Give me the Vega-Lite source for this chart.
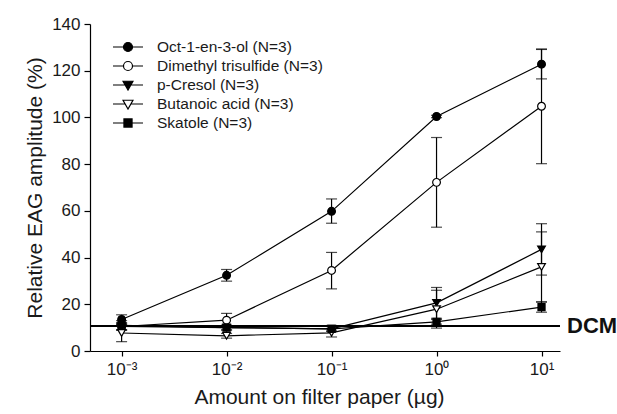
{
  "$schema": "https://vega.github.io/schema/vega-lite/v6.json",
  "width": 470,
  "height": 327,
  "autosize": {"type": "none"},
  "padding": {"left": 90, "top": 24, "right": 57, "bottom": 63},
  "background": "white",
  "config": {
    "view": {"stroke": null},
    "font": "Liberation Sans",
    "axis": {
      "grid": false,
      "domainColor": "black",
      "domainWidth": 1.2,
      "tickColor": "black",
      "tickWidth": 1.2,
      "labelColor": "#1a1a1a",
      "titleColor": "#1a1a1a",
      "labelFont": "Liberation Sans",
      "titleFont": "Liberation Sans",
      "labelFontSize": 17,
      "titleFontSize": 21,
      "titleFontWeight": "normal"
    },
    "legend": {
      "labelFont": "Liberation Sans",
      "labelFontSize": 15.5,
      "labelColor": "#1a1a1a",
      "labelLimit": 400,
      "symbolStrokeWidth": 1.2
    }
  },
  "datasets": {
    "eag": [
      {"series": "Oct-1-en-3-ol (N=3)", "x": 0.001, "y": 13.5, "lo": 11.5, "hi": 15.5},
      {"series": "Oct-1-en-3-ol (N=3)", "x": 0.01, "y": 32.4, "lo": 29.9, "hi": 34.9},
      {"series": "Oct-1-en-3-ol (N=3)", "x": 0.1, "y": 59.8, "lo": 54.7, "hi": 65.1},
      {"series": "Oct-1-en-3-ol (N=3)", "x": 1, "y": 100.4, "lo": 99.9, "hi": 100.9},
      {"series": "Oct-1-en-3-ol (N=3)", "x": 10, "y": 122.8, "lo": 116.5, "hi": 129.1},
      {"series": "Dimethyl trisulfide (N=3)", "x": 0.001, "y": 10.5, "lo": 9, "hi": 12},
      {"series": "Dimethyl trisulfide (N=3)", "x": 0.01, "y": 13.2, "lo": 10.3, "hi": 16.1},
      {"series": "Dimethyl trisulfide (N=3)", "x": 0.1, "y": 34.5, "lo": 26.6, "hi": 42.2},
      {"series": "Dimethyl trisulfide (N=3)", "x": 1, "y": 72.2, "lo": 53, "hi": 91.4},
      {"series": "Dimethyl trisulfide (N=3)", "x": 10, "y": 104.8, "lo": 80.2, "hi": 129.3},
      {"series": "p-Cresol (N=3)", "x": 0.001, "y": 10.5, "lo": 9, "hi": 12},
      {"series": "p-Cresol (N=3)", "x": 0.01, "y": 10, "lo": 9, "hi": 11},
      {"series": "p-Cresol (N=3)", "x": 0.1, "y": 9.5, "lo": 8.5, "hi": 10.5},
      {"series": "p-Cresol (N=3)", "x": 1, "y": 20.6, "lo": 14, "hi": 27.2},
      {"series": "p-Cresol (N=3)", "x": 10, "y": 43.5, "lo": 32.5, "hi": 54.5},
      {"series": "Butanoic acid (N=3)", "x": 0.001, "y": 7.7, "lo": 4, "hi": 11.4},
      {"series": "Butanoic acid (N=3)", "x": 0.01, "y": 6.5, "lo": 5.5, "hi": 7.5},
      {"series": "Butanoic acid (N=3)", "x": 0.1, "y": 7.8, "lo": 6, "hi": 9.6},
      {"series": "Butanoic acid (N=3)", "x": 1, "y": 17.9, "lo": 9.8, "hi": 26},
      {"series": "Butanoic acid (N=3)", "x": 10, "y": 36, "lo": 21, "hi": 51},
      {"series": "Skatole (N=3)", "x": 0.001, "y": 11, "lo": 9, "hi": 13},
      {"series": "Skatole (N=3)", "x": 0.01, "y": 10, "lo": 9, "hi": 11},
      {"series": "Skatole (N=3)", "x": 0.1, "y": 9.5, "lo": 8.5, "hi": 10.5},
      {"series": "Skatole (N=3)", "x": 1, "y": 12.5, "lo": 11.5, "hi": 13.5},
      {"series": "Skatole (N=3)", "x": 10, "y": 18.8, "lo": 16.6, "hi": 21}
    ],
    "dcm": [{"label": "DCM", "x": 15, "y": 10.7}]
  },
  "encoding": {
    "x": {
      "field": "x", "type": "quantitative",
      "scale": {"type": "log", "domain": [0.0005, 15], "nice": false},
      "axis": {
        "title": "Amount on filter paper (µg)",
        "values": [0.001, 0.01, 0.1, 1, 10],
        "tickSize": 5,
        "labelPadding": 5,
        "titlePadding": 9,
        "titleX": 229,
        "labelExpr": "round(log(datum.value)/LN10) == -3 ? '10⁻³' : round(log(datum.value)/LN10) == -2 ? '10⁻²' : round(log(datum.value)/LN10) == -1 ? '10⁻¹' : round(log(datum.value)/LN10) == 0 ? '10⁰' : '10¹'"
      }
    },
    "y": {
      "field": "y", "type": "quantitative",
      "scale": {"domain": [0, 140]},
      "axis": {
        "title": "Relative EAG amplitude (%)",
        "values": [0, 20, 40, 60, 80, 100, 120, 140],
        "tickSize": 6,
        "labelPadding": 4,
        "titlePadding": 6
      }
    }
  },
  "layer": [
    {
      "data": {"name": "dcm"},
      "mark": {"type": "rule", "color": "black", "strokeWidth": 2},
      "encoding": {"x": null}
    },
    {
      "data": {"name": "dcm"},
      "mark": {"type": "text", "align": "left", "baseline": "middle", "dx": 7, "fontSize": 22, "fontWeight": "bold", "font": "Liberation Sans", "color": "#111"},
      "encoding": {"text": {"field": "label"}}
    },
    {
      "data": {"name": "eag"},
      "mark": {"type": "line", "color": "black", "strokeWidth": 1.2},
      "encoding": {"detail": {"field": "series"}}
    },
    {
      "data": {"name": "eag"},
      "mark": {"type": "errorbar", "ticks": {"size": 11}, "color": "black", "thickness": 1.2},
      "encoding": {
        "y": {"field": "lo", "type": "quantitative", "title": "Relative EAG amplitude (%)"},
        "y2": {"field": "hi"}
      }
    },
    {
      "data": {"name": "eag"},
      "transform": [{"filter": "datum.series == 'Oct-1-en-3-ol (N=3)'"}],
      "mark": {"type": "point", "shape": "circle", "filled": true, "fill": "black", "stroke": "black", "strokeWidth": 1.2, "size": 60, "opacity": 1}
    },
    {
      "data": {"name": "eag"},
      "transform": [{"filter": "datum.series == 'Dimethyl trisulfide (N=3)'"}],
      "mark": {"type": "point", "shape": "circle", "filled": true, "fill": "white", "stroke": "black", "strokeWidth": 1.2, "size": 60, "opacity": 1}
    },
    {
      "data": {"name": "eag"},
      "transform": [{"filter": "datum.series == 'p-Cresol (N=3)'"}],
      "mark": {"type": "point", "shape": "triangle-down", "filled": true, "fill": "black", "stroke": "black", "strokeWidth": 1.2, "size": 60, "opacity": 1}
    },
    {
      "data": {"name": "eag"},
      "transform": [{"filter": "datum.series == 'Butanoic acid (N=3)'"}],
      "mark": {"type": "point", "shape": "triangle-down", "filled": true, "fill": "white", "stroke": "black", "strokeWidth": 1.2, "size": 60, "opacity": 1}
    },
    {
      "data": {"name": "eag"},
      "transform": [{"filter": "datum.series == 'Skatole (N=3)'"}],
      "mark": {"type": "point", "shape": "square", "filled": true, "fill": "black", "stroke": "black", "strokeWidth": 1.2, "size": 50, "opacity": 1}
    },
    {
      "data": {"name": "eag"},
      "transform": [{"filter": "datum.x < 0"}],
      "mark": {"type": "point", "filled": true, "strokeWidth": 1.2, "opacity": 1},
      "encoding": {
        "shape": {
          "field": "series", "type": "nominal",
          "scale": {
            "domain": ["Oct-1-en-3-ol (N=3)", "Dimethyl trisulfide (N=3)", "p-Cresol (N=3)", "Butanoic acid (N=3)", "Skatole (N=3)"],
            "range": [
              "M-1,0H-0.3M0.3,0H1M0.3,0A0.3,0.3,0,1,1,-0.3,0A0.3,0.3,0,1,1,0.3,0Z",
              "M-1,0H-0.3M0.3,0H1M0.3,0A0.3,0.3,0,1,1,-0.3,0A0.3,0.3,0,1,1,0.3,0Z",
              "M-1,0H-0.2M0.2,0H1M-0.33,-0.25L0.33,-0.25L0,0.33Z",
              "M-1,0H-0.2M0.2,0H1M-0.33,-0.25L0.33,-0.25L0,0.33Z",
              "M-1,0H-0.27M0.27,0H1M-0.27,-0.27H0.27V0.27H-0.27Z"
            ]
          },
          "legend": {"title": null, "orient": "none", "legendX": 22, "legendY": 15, "padding": 0, "direction": "vertical", "columns": 1, "clipHeight": 16, "rowPadding": 2, "labelOffset": 13, "labelLimit": 400}
        },
        "fill": {
          "field": "series", "type": "nominal",
          "scale": {
            "domain": ["Oct-1-en-3-ol (N=3)", "Dimethyl trisulfide (N=3)", "p-Cresol (N=3)", "Butanoic acid (N=3)", "Skatole (N=3)"],
            "range": ["black", "white", "black", "white", "black"]
          },
          "legend": {"title": null, "orient": "none", "legendX": 22, "legendY": 15, "padding": 0, "direction": "vertical", "columns": 1, "clipHeight": 16, "rowPadding": 2, "labelOffset": 13, "labelLimit": 400}
        },
        "stroke": {
          "field": "series", "type": "nominal",
          "scale": {
            "domain": ["Oct-1-en-3-ol (N=3)", "Dimethyl trisulfide (N=3)", "p-Cresol (N=3)", "Butanoic acid (N=3)", "Skatole (N=3)"],
            "range": ["black", "black", "black", "black", "black"]
          },
          "legend": {"title": null, "orient": "none", "legendX": 22, "legendY": 15, "padding": 0, "direction": "vertical", "columns": 1, "clipHeight": 16, "rowPadding": 2, "labelOffset": 13, "labelLimit": 400}
        },
        "size": {
          "field": "series", "type": "nominal",
          "scale": {
            "domain": ["Oct-1-en-3-ol (N=3)", "Dimethyl trisulfide (N=3)", "p-Cresol (N=3)", "Butanoic acid (N=3)", "Skatole (N=3)"],
            "range": [900, 900, 900, 900, 900]
          },
          "legend": {"title": null, "orient": "none", "legendX": 22, "legendY": 15, "padding": 0, "direction": "vertical", "columns": 1, "clipHeight": 16, "rowPadding": 2, "labelOffset": 13, "labelLimit": 400}
        }
      }
    }
  ]
}
